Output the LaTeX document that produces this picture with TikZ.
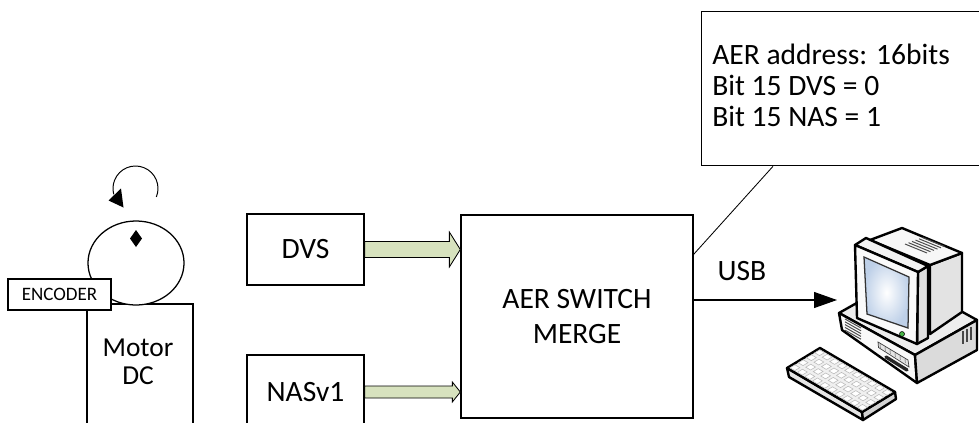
\documentclass[tikz,border=0pt]{standalone}
\usepackage{fontspec}
\setmainfont{Carlito}
\usetikzlibrary{arrows.meta, shapes.geometric, calc}
\definecolor{busfill}{RGB}{215,226,190}
\definecolor{screenblue}{RGB}{190,208,232}
\definecolor{ledgreen}{RGB}{70,180,70}

\begin{document}
\begin{tikzpicture}[x=0.025cm, y=-0.025cm,
    box/.style={draw, line width=0.9pt, fill=white, inner sep=0pt},
    lbl/.style={font=\fontsize{21}{25.5}\selectfont, align=center},
    fatarrow/.style={draw, line width=0.6pt, fill=busfill, line join=miter},
    pcedge/.style={draw=black, line width=1.7pt, line join=round},
    pcvent/.style={draw=gray!60!black, line width=0.7pt},
    keycap/.style={draw=gray!55, line width=0.4pt, fill=white}]
  \useasboundingbox (0,0) rectangle (979,422);

  % motor with encoder disc
  \node[box, minimum width=2.65cm, minimum height=3.4cm] (motor) at (140,372) {};
  \node[font=\fontsize{19.5}{20}\selectfont, align=center] (motortxt) at (138,362) {Motor\\DC};
  \node[box, ellipse, minimum width=2.4cm, minimum height=2.1cm] (rotor) at (136,263) {};
  \fill (136,230) -- (142,238.5) -- (136,247) -- (130,238.5) -- cycle;
  \node[box, minimum width=2.575cm, minimum height=0.775cm,
        font=\fontsize{13.5}{14}\selectfont] (encoder) at (59.5,294.5) {ENCODER};
  % spin sense
  \coordinate (spin) at (135.5,188.5);
  \draw[line width=0.7pt] (spin) ++(22:22.5) arc[start angle=22, end angle=-195, radius=22.5];
  \fill (108.5,200.5) -- (121,188.5) -- (123.5,207.5) -- cycle;

  % sensors and merger
  \node[box, lbl, minimum width=2.925cm, minimum height=1.775cm] (dvs) at (305.5,249.5) {DVS};
  \node[box, lbl, minimum width=2.925cm, minimum height=1.85cm] (nas) at (305.5,392) {NASv1};
  \node[box, lbl, minimum width=5.8cm, minimum height=5.075cm] (aer) at (577,316.5) {AER SWITCH\\MERGE};

  \draw[fatarrow] ($(dvs.east)+(0,-8)$) -- ($(dvs.east -| aer.west)+(-11,-8)$) -- ++(0,-9.5)
    -- (dvs.east -| aer.west) -- ++(-11,17.5) -- ++(0,-9.5) -- ($(dvs.east)+(0,8)$) -- cycle;
  \draw[fatarrow] ($(nas.east)+(0,-6)$) -- ($(nas.east -| aer.west)+(-8,-6)$) -- ++(0,-4)
    -- (nas.east -| aer.west) -- ++(-8,10) -- ++(0,-4) -- ($(nas.east)+(0,6)$) -- cycle;

  % address note
  \node[box, anchor=north west, minimum width=7.05cm, minimum height=3.85cm] (note) at (701,11) {};
  \node[lbl, font=\fontsize{21}{22}\selectfont, anchor=base west, inner sep=0pt] (addr) at (712,64) {AER address: 16bits};
  \node[lbl, font=\fontsize{21}{22}\selectfont, anchor=base west, inner sep=0pt] (dvsbit) at (712,95) {Bit 15 DVS = 0};
  \node[lbl, font=\fontsize{21}{22}\selectfont, anchor=base west, inner sep=0pt] (nasbit) at (712,126) {Bit 15 NAS = 1};
  \draw[line width=0.6pt] ($(note.south west)+(72,0)$) -- ($(aer.north east)+(0,40)$);

  % usb link
  \coordinate (pcin) at (837,300);
  \node[lbl] (usb) at (742,271) {USB};
  \draw[line width=0.8pt, -{Triangle[length=0.575cm, width=0.4cm]}] (aer.east |- pcin) -- (pcin);

  % computer: case
  \filldraw[pcedge, fill=gray!14] (839,313) -- (901,278) -- (977,320) -- (915,355) -- cycle;
  \filldraw[pcedge, fill=gray!5] (839,313) -- (915,355) -- (917,383) -- (842,330) -- cycle;
  \filldraw[pcedge, fill=gray!28] (915,355) -- (977,320) -- (977,350) -- (917,383) -- cycle;
  \foreach \k in {0,...,4}
    \draw[pcvent] (845,319+\k*2.8) -- ++(16,9);
  \filldraw[draw=gray!50!black, fill=gray!20, line width=0.5pt]
    (878,342) -- (908,360) -- (909,367) -- (878.5,347.5) -- cycle;
  \foreach \k in {0,...,5}
    \draw[gray!60!black, line width=0.3pt] (880+\k*5,344+\k*3) -- ++(0.3,4);
  \draw[black!85, line width=2.4pt, line cap=round] (886,357) -- (907,370);
  \foreach \k in {0,1,2}
    \draw[gray!55!black, line width=1.1pt] (963+\k*4,331-\k*2.2) -- ++(0,13);

  % computer: monitor
  \filldraw[pcedge, fill=gray!22] (930,265) -- (962,253) -- (962,312) -- (930,334) -- cycle;
  \filldraw[pcedge, fill=gray!6] (870,240) -- (902,228) -- (962,253) -- (930,265) -- cycle;
  \foreach \k in {0,...,5}
    \draw[pcvent] (905+\k*3.5,244-\k*1.3) -- ++(22,9);
  \filldraw[pcedge, fill=gray!25] (918,272) -- (928,266) -- (928,338) -- (917,344) -- cycle;
  \filldraw[pcedge, fill=gray!10] (855,245) -- (866,238) -- (928,266) -- (918,272) -- cycle;
  \filldraw[pcedge, fill=gray!4] (855,245) -- (918,272) -- (917,344) -- (857,318) -- cycle;
  \shadedraw[inner color=white, outer color=screenblue, draw=gray!40!black, line width=0.9pt]
    (864,257) -- (909,277) -- (908,328) -- (867,314) -- cycle;
  \filldraw[fill=ledgreen, draw=black, line width=0.4pt] (902,334) circle[radius=2.5];

  % computer: keyboard
  \filldraw[pcedge, fill=gray!20] (787,368) -- (862,412) -- (863,420) -- (789,377) -- cycle;
  \filldraw[pcedge, fill=gray!35] (862,412) -- (895,392) -- (896,399) -- (863,420) -- cycle;
  \begin{scope}[shift={(787,368)}, x={(0.1875cm,-0.11cm)}, y={(0.20625cm,0.125cm)}]
    \filldraw[pcedge, fill=gray!12] (0,0) -- (10,0) -- (10,4) -- (0,4) -- cycle;
    \foreach \i in {0,...,9}
      \foreach \j in {0,...,3}
        \filldraw[keycap] (\i+0.18,\j+0.2) -- ++(0.64,0) -- ++(0,0.6) -- ++(-0.64,0) -- cycle;
  \end{scope}
\end{tikzpicture}
\end{document}
